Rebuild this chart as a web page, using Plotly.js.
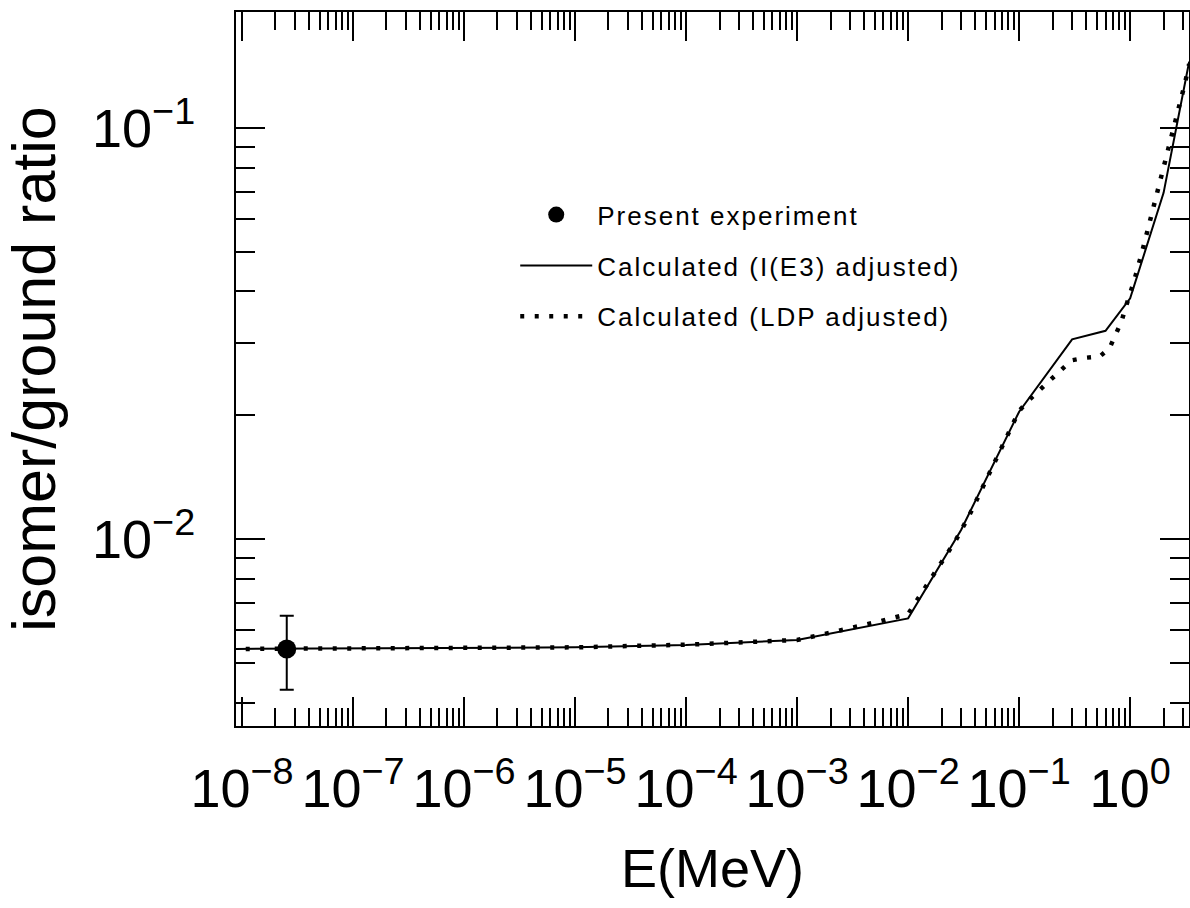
<!DOCTYPE html>
<html>
<head>
<meta charset="utf-8">
<script src="https://cdn.plot.ly/plotly-3.0.1.min.js"></script>
<style>html,body{margin:0;padding:0;background:#fff;}#chart{width:1190px;height:908px;}</style>
</head>
<body>
<div id="chart"></div>
<script>
// Experimental point (thermal energy)
const expE = [2.53e-8];
const expRatio = [5.4e-3];
const expErr = [1.1e-3];

// Calculated (I(E3) adjusted)
const calcE3_E = [8e-9, 1e-7, 1e-6, 1e-5, 1e-4, 1e-3, 1e-2, 0.03, 0.1, 0.3, 0.6, 1.0, 2.0, 3.4];
const calcE3_R = [5.40e-3, 5.41e-3, 5.42e-3, 5.45e-3, 5.52e-3, 5.68e-3, 6.41e-3, 1.052e-2, 2.04e-2, 3.06e-2, 3.21e-2, 3.85e-2, 6.95e-2, 0.145];

// Calculated (LDP adjusted)
const calcLDP_E = [8e-9, 1e-7, 1e-6, 1e-5, 1e-4, 1e-3, 1.75e-3, 3.13e-3, 5.62e-3, 1e-2, 1.39e-2, 1.94e-2, 2.67e-2, 3.55e-2, 4.61e-2, 5.99e-2, 7.75e-2, 0.1, 0.123, 0.155, 0.191, 0.238, 0.296, 0.399, 0.533, 0.651, 0.743, 0.835, 0.908, 1.0, 1.087, 1.28, 1.48, 1.75, 2.02, 2.34, 2.71, 3.13, 3.4];
const calcLDP_R = [5.40e-3, 5.41e-3, 5.42e-3, 5.45e-3, 5.53e-3, 5.68e-3, 5.87e-3, 6.07e-3, 6.31e-3, 6.57e-3, 7.52e-3, 8.63e-3, 9.90e-3, 1.14e-2, 1.322e-2, 1.528e-2, 1.771e-2, 2.05e-2, 2.18e-2, 2.31e-2, 2.44e-2, 2.58e-2, 2.72e-2, 2.76e-2, 2.78e-2, 2.91e-2, 3.14e-2, 3.38e-2, 3.65e-2, 3.94e-2, 4.25e-2, 4.99e-2, 5.83e-2, 6.84e-2, 8.00e-2, 9.35e-2, 0.110, 0.129, 0.143];

// Tick labels
const xTickVals = [1e-8, 1e-7, 1e-6, 1e-5, 1e-4, 1e-3, 1e-2, 1e-1, 1e0];
const xTickText = ['10<sup>\u22128</sup>', '10<sup>\u22127</sup>', '10<sup>\u22126</sup>', '10<sup>\u22125</sup>', '10<sup>\u22124</sup>', '10<sup>\u22123</sup>', '10<sup>\u22122</sup>', '10<sup>\u22121</sup>', '10<sup>0</sup>'];
const yTickVals = [1e-2, 1e-1];
const yTickText = ['10<sup>\u22122</sup>', '10<sup>\u22121</sup>'];

const seriesNames = ['Present experiment', 'Calculated (I(E3) adjusted)', 'Calculated (LDP adjusted)'];

const FONT = 'Liberation Sans, Arial, Helvetica, sans-serif';
const wide = s => '<span style="letter-spacing:2px">' + s + '</span>';

const traces = [
  {
    x: calcLDP_E, y: calcLDP_R, type: 'scatter', mode: 'lines',
    name: wide(seriesNames[2]), legendgroup: 'c', legendrank: 3,
    line: {color: '#000', width: 4.5, dash: '4px,10.5px'}
  },
  {
    x: calcE3_E, y: calcE3_R, type: 'scatter', mode: 'lines',
    name: wide(seriesNames[1]), legendgroup: 'b', legendrank: 2,
    line: {color: '#000', width: 2}
  },
  {
    x: expE, y: expRatio, type: 'scatter', mode: 'markers',
    name: wide(seriesNames[0]), legendgroup: 'a', legendrank: 1,
    marker: {color: '#000', size: 19, symbol: 'circle'},
    error_y: {type: 'data', array: expErr, visible: true, color: '#000', thickness: 2, width: 7}
  }
];

const axisCommon = {
  showline: true, linecolor: '#000', linewidth: 2, mirror: 'allticks',
  ticks: 'inside', tickwidth: 2, tickcolor: '#000', ticklen: 29,
  showgrid: false, zeroline: false,
  tickfont: {family: FONT, size: 54, color: '#000'},
  tickmode: 'array'
};

const layout = {
  width: 1190, height: 908,
  paper_bgcolor: '#fff', plot_bgcolor: '#fff',
  margin: {l: 236, r: 1, t: 12, b: 182},
  showlegend: true,
  legend: {
    x: 0.293, y: 0.749, xanchor: 'left', yanchor: 'top',
    bgcolor: 'rgba(0,0,0,0)', borderwidth: 0,
    font: {family: FONT, size: 26, color: '#000'},
    tracegroupgap: 14, itemwidth: 72, traceorder: 'grouped'
  },
  xaxis: Object.assign({}, axisCommon, {
    type: 'log', range: [-8.054, 0.53],
    tickvals: xTickVals, ticktext: xTickText,
    ticklabelstandoff: 14,
    minor: {dtick: 'D1', ticks: 'inside', ticklen: 18, tickwidth: 2, tickcolor: '#000', showgrid: false},
    title: {text: 'E(MeV)', font: {family: FONT, size: 54, color: '#000'}, standoff: 32},
    automargin: false
  }),
  yaxis: Object.assign({}, axisCommon, {
    type: 'log', range: [-2.455, -0.718],
    tickvals: yTickVals, ticktext: yTickText,
    ticklabelstandoff: 28,
    minor: {dtick: 'D1', ticks: 'inside', ticklen: 19, tickwidth: 2, tickcolor: '#000', showgrid: false},
    title: {text: 'isomer/ground ratio', font: {family: FONT, size: 61, color: '#000'}, standoff: 20},
    automargin: false
  })
};

Plotly.newPlot('chart', traces, layout, {displayModeBar: false, staticPlot: true});
</script>
</body>
</html>
